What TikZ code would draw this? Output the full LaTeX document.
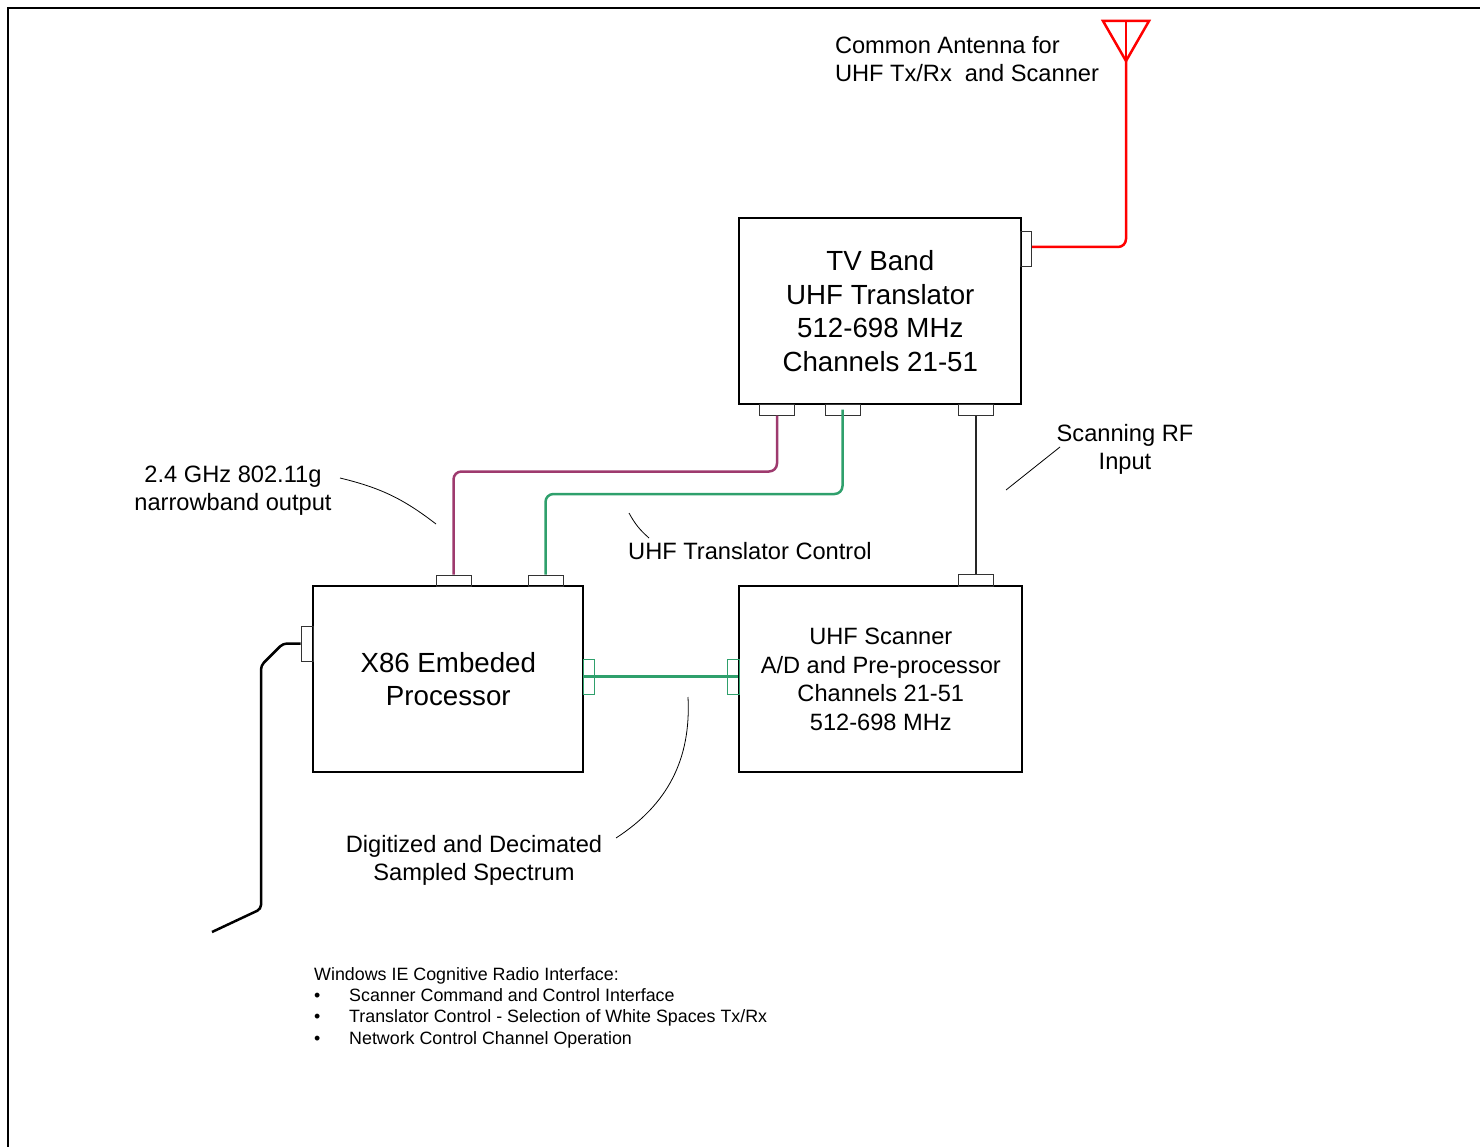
\documentclass[tikz,border=0pt]{standalone}
\usepackage{fontspec}
\setmainfont{Liberation Sans}
\usepackage{xcolor}
\usetikzlibrary{positioning,calc}
\definecolor{rfred}{HTML}{FF0000}
\definecolor{plum}{HTML}{9E3A6E}
\definecolor{ctlgreen}{HTML}{2FA06C}

\begin{document}
\begin{tikzpicture}[x=1pt, y=-1pt,
    unit/.style={rectangle, draw=black, line width=2pt, anchor=north west, inner sep=0pt, align=center},
    big/.style={font=\fontsize{27.7}{33.5}\selectfont},
    mid/.style={font=\fontsize{23.6}{28.5}\selectfont},
    txt/.style={inner sep=0pt, align=center, font=\fontsize{23.65}{28}\selectfont},
    porth/.style={rectangle, draw=black!80, line width=1pt, minimum width=35pt, minimum height=11pt, inner sep=0pt},
    portv/.style={rectangle, draw=black!80, line width=1pt, minimum width=11pt, minimum height=35pt, inner sep=0pt},
    cable/.style={line width=2.5pt, rounded corners=8pt},
    leader/.style={draw=black, line width=0.8pt}
]
    \useasboundingbox (0,0) rectangle (1480,1147);

    % Sheet border
    \coordinate (sheetbl) at (8,1147);
    \coordinate (sheettl) at (8,8);
    \coordinate (sheettr) at (1480,8);
    \draw[line width=2pt] (sheetbl) -- (sheettl) -- (sheettr);

    % Units
    \node[unit, big, minimum width=282pt, minimum height=186pt] (translator) at (738.3,217.3)
        {TV Band\\UHF Translator\\512-698 MHz\\Channels 21-51};
    \node[unit, big, minimum width=270pt, minimum height=186pt] (cpu) at (312.3,585.3)
        {X86 Embeded\\Processor};
    \node[unit, mid, minimum width=283pt, minimum height=186pt] (scanner) at (738.3,585.3)
        {UHF Scanner\\A/D and Pre-processor\\Channels 21-51\\512-698 MHz};

    % Ports
    \node[portv] (transant) at (1026,249.5) {};
    \node[porth] (transout) at (777,409.5) {};
    \node[porth] (transctl) at (842.5,409.5) {};
    \node[porth] (transrf) at (975.5,409.5) {};
    \node[porth] (cpuout) at (453.5,580.5) {};
    \node[porth] (cpuctl) at (545.5,580.5) {};
    \node[porth, minimum height=12pt] (scanrf) at (975.5,580) {};
    \node[portv, minimum width=12pt] (cpunet) at (307,643.5) {};
    \node[portv, draw=ctlgreen] (cpudata) at (588.5,676.5) {};
    \node[portv, draw=ctlgreen, minimum width=12pt] (scandata) at (733,676.5) {};

    % Antenna
    \coordinate (anttip) at (1126,61);
    \coordinate (antleft) at (1103,21);
    \coordinate (antright) at (1149,21);
    \coordinate (anttop) at (1126,21);
    \draw[rfred, line width=2.5pt, line join=miter] (antleft) -- (antright) -- (anttip) -- cycle;
    \draw[rfred, line width=1.5pt] (anttop) -- (anttip);

    % Cables
    \draw[cable, rfred] (transant.east |- 0,247) -| (anttip);
    \draw[cable, plum] (transout.south) -- (777,471.5) -- (453.5,471.5) -- (cpuout.north);
    \draw[cable, ctlgreen] (transctl.center) -- (842.5,494) -- (545.5,494) -- (cpuctl.north);
    \draw[line width=2pt, black!85] (transrf.south) -- (scanrf.north);
    \draw[line width=3pt, ctlgreen] (cpu.east |- cpudata) -- (scanner.west |- cpudata);
    \coordinate (netbend) at (283,643.5);
    \coordinate (netdrop) at (261,665.5);
    \coordinate (netfoot) at (261,909);
    \coordinate (netend) at (212,932);
    \draw[line width=2.5pt, rounded corners=4pt] (cpunet.west |- netbend) -- (netbend) -- (netdrop) -- (netfoot) -- (netend);

    % Labels
    \node[txt] (antlabel) at (967,59.5) {\parbox{264pt}{Common Antenna for\\UHF Tx/Rx\ \ and Scanner}};
    \node[txt] (rflabel) at (1125,449) {Scanning RF\\Input};
    \node[txt] (wifilabel) at (233,490.5) {2.4 GHz 802.11g\\narrowband output};
    \node[txt] (ctllabel) at (750,551) {UHF Translator Control};
    \node[txt] (datalabel) at (474,860) {Digitized and Decimated\\Sampled Spectrum};
    \node[inner sep=0pt, align=left, anchor=north west, font=\fontsize{17.85}{21.4}\selectfont] (notes) at (314,967)
        {Windows IE Cognitive Radio Interface:\\
         \makebox[35pt][l]{\textbullet}Scanner Command and Control Interface\\
         \makebox[35pt][l]{\textbullet}Translator Control - Selection of White Spaces Tx/Rx\\
         \makebox[35pt][l]{\textbullet}Network Control Channel Operation};

    % Leaders
    \coordinate (wifistart) at (340,478);
    \coordinate (wifiend) at (436,524);
    \coordinate (ctlstart) at (649,538);
    \coordinate (ctlend) at (629,513);
    \coordinate (rfstart) at (1060,447);
    \coordinate (rfend) at (1006,490);
    \coordinate (datastart) at (616,838);
    \coordinate (dataend) at (688,697);
    \draw[leader] (wifistart) to[bend left=12] (wifiend);
    \draw[leader] (ctlstart) to[bend left=10] (ctlend);
    \draw[leader] (rfstart) -- (rfend);
    \draw[leader] (datastart) to[bend right=30] (dataend);
\end{tikzpicture}
\end{document}
